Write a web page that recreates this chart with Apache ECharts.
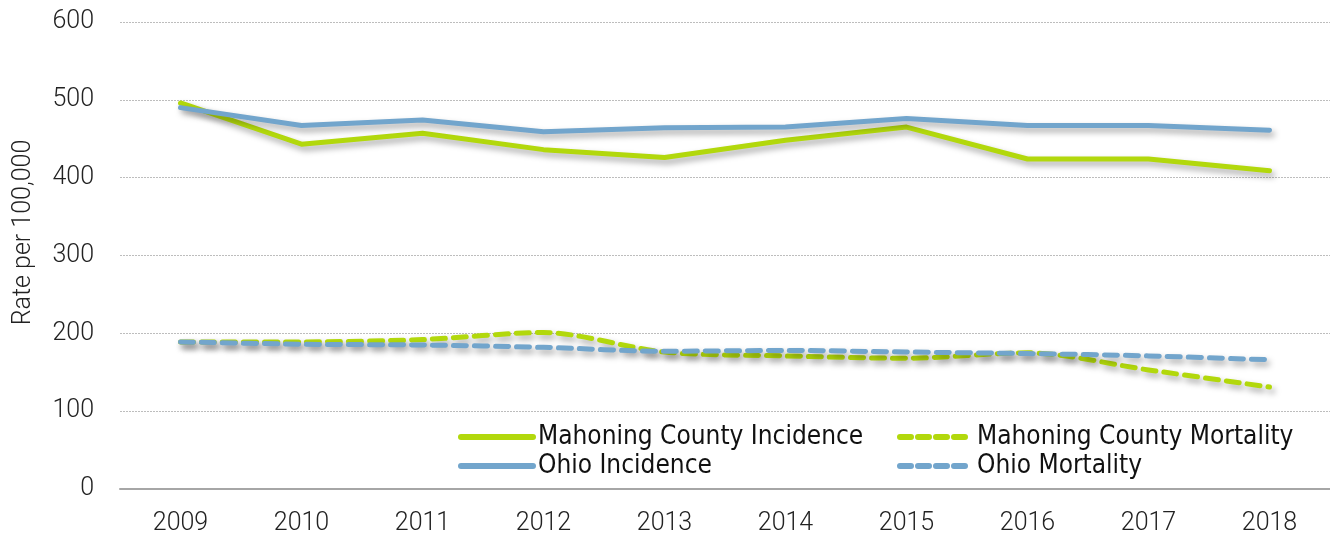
<!DOCTYPE html>
<html>
<head>
<meta charset="utf-8">
<script src="https://cdn.jsdelivr.net/npm/echarts@6/dist/echarts.min.js"></script>
<style>
html,body{margin:0;padding:0;background:#fff;}
#chart{width:1330px;height:540px;}
</style>
</head>
<body>
<div id="chart"></div>
<script>
var years = ['2009','2010','2011','2012','2013','2014','2015','2016','2017','2018'];
var mahoningInc = [496, 443, 457, 436, 426, 448, 465, 424, 424, 409];
var ohioInc = [490, 467, 474, 459, 464, 465, 476, 467, 467, 461];
var mahoningMort = [189, 189, 192, 201, 176, 171, 168, 175, 153, 131];
var ohioMort = [189, 186, 185, 182, 177, 178, 176, 174, 171, 166];

var green = '#b2d80c';
var blue = '#72a5cc';
var shadow = {shadowColor:'rgba(0,0,0,0.35)', shadowBlur:6, shadowOffsetX:3, shadowOffsetY:4};

function mkSeries(name, data, color, dashed){
	var ls = {color:color, width:5, cap:'round', join:'round'};
	if(dashed){ ls.type = [13, 8]; }
	for(var k in shadow){ ls[k] = shadow[k]; }
	return {
		name:name,
		type:'line',
		data:data,
		symbol:'none',
		smooth: dashed ? 0.3 : false,
		itemStyle:{color:color},
		lineStyle:ls
	};
}
// legend entry: line only, no dot
function legItem(name, color, dashed){
	return {
		name:name,
		itemStyle:{opacity:0},
		lineStyle:{color:color, width:6, cap:'round', type: dashed ? [11,7] : 'solid', shadowBlur:0, shadowOffsetX:0, shadowOffsetY:0}
	};
}

var chart = echarts.init(document.getElementById('chart'));
var legendText = {fontFamily:'"Liberation Sans Narrow","DejaVu Sans Condensed",sans-serif', fontSize:26, color:'#111'};
var option = {
	animation:false,
	grid:{left:120, right:0, top:22, bottom:51},
	legend:[{
		orient:'vertical',
		left:453, top:419,
		itemWidth:72, itemHeight:10, itemGap:3,
		textStyle:legendText,
		data:[legItem('Mahoning County Incidence', green, false), legItem('Ohio Incidence', blue, false)]
	},{
		orient:'vertical',
		left:892, top:419,
		itemWidth:72, itemHeight:10, itemGap:3,
		textStyle:legendText,
		data:[legItem('Mahoning County Mortality', green, true), legItem('Ohio Mortality', blue, true)]
	}],
	xAxis:{
		type:'category',
		data:years,
		boundaryGap:true,
		axisLine:{lineStyle:{color:'#a6a6a6', width:2}},
		axisTick:{show:false},
		axisLabel:{fontFamily:'Roboto,sans-serif', fontWeight:300, fontSize:25, color:'#222', margin:22}
	},
	yAxis:{
		type:'value',
		min:0, max:600, interval:100,
		name:'Rate per 100,000',
		nameLocation:'middle',
		nameRotate:90,
		nameGap:84,
		nameTextStyle:{fontFamily:'Roboto,sans-serif', fontWeight:300, fontSize:25, color:'#222', padding:[0,0,0,46]},
		axisLine:{show:false},
		axisTick:{show:false},
		axisLabel:{fontFamily:'Roboto,sans-serif', fontWeight:300, fontSize:25, color:'#222', margin:26},
		splitLine:{lineStyle:{color:'#bdbdbd', type:[2,1], width:1}}
	},
	series:[
		mkSeries('Mahoning County Incidence', mahoningInc, green, false),
		mkSeries('Ohio Incidence', ohioInc, blue, false),
		mkSeries('Mahoning County Mortality', mahoningMort, green, true),
		mkSeries('Ohio Mortality', ohioMort, blue, true)
	]
};
chart.setOption(option);
</script>
</body>
</html>
